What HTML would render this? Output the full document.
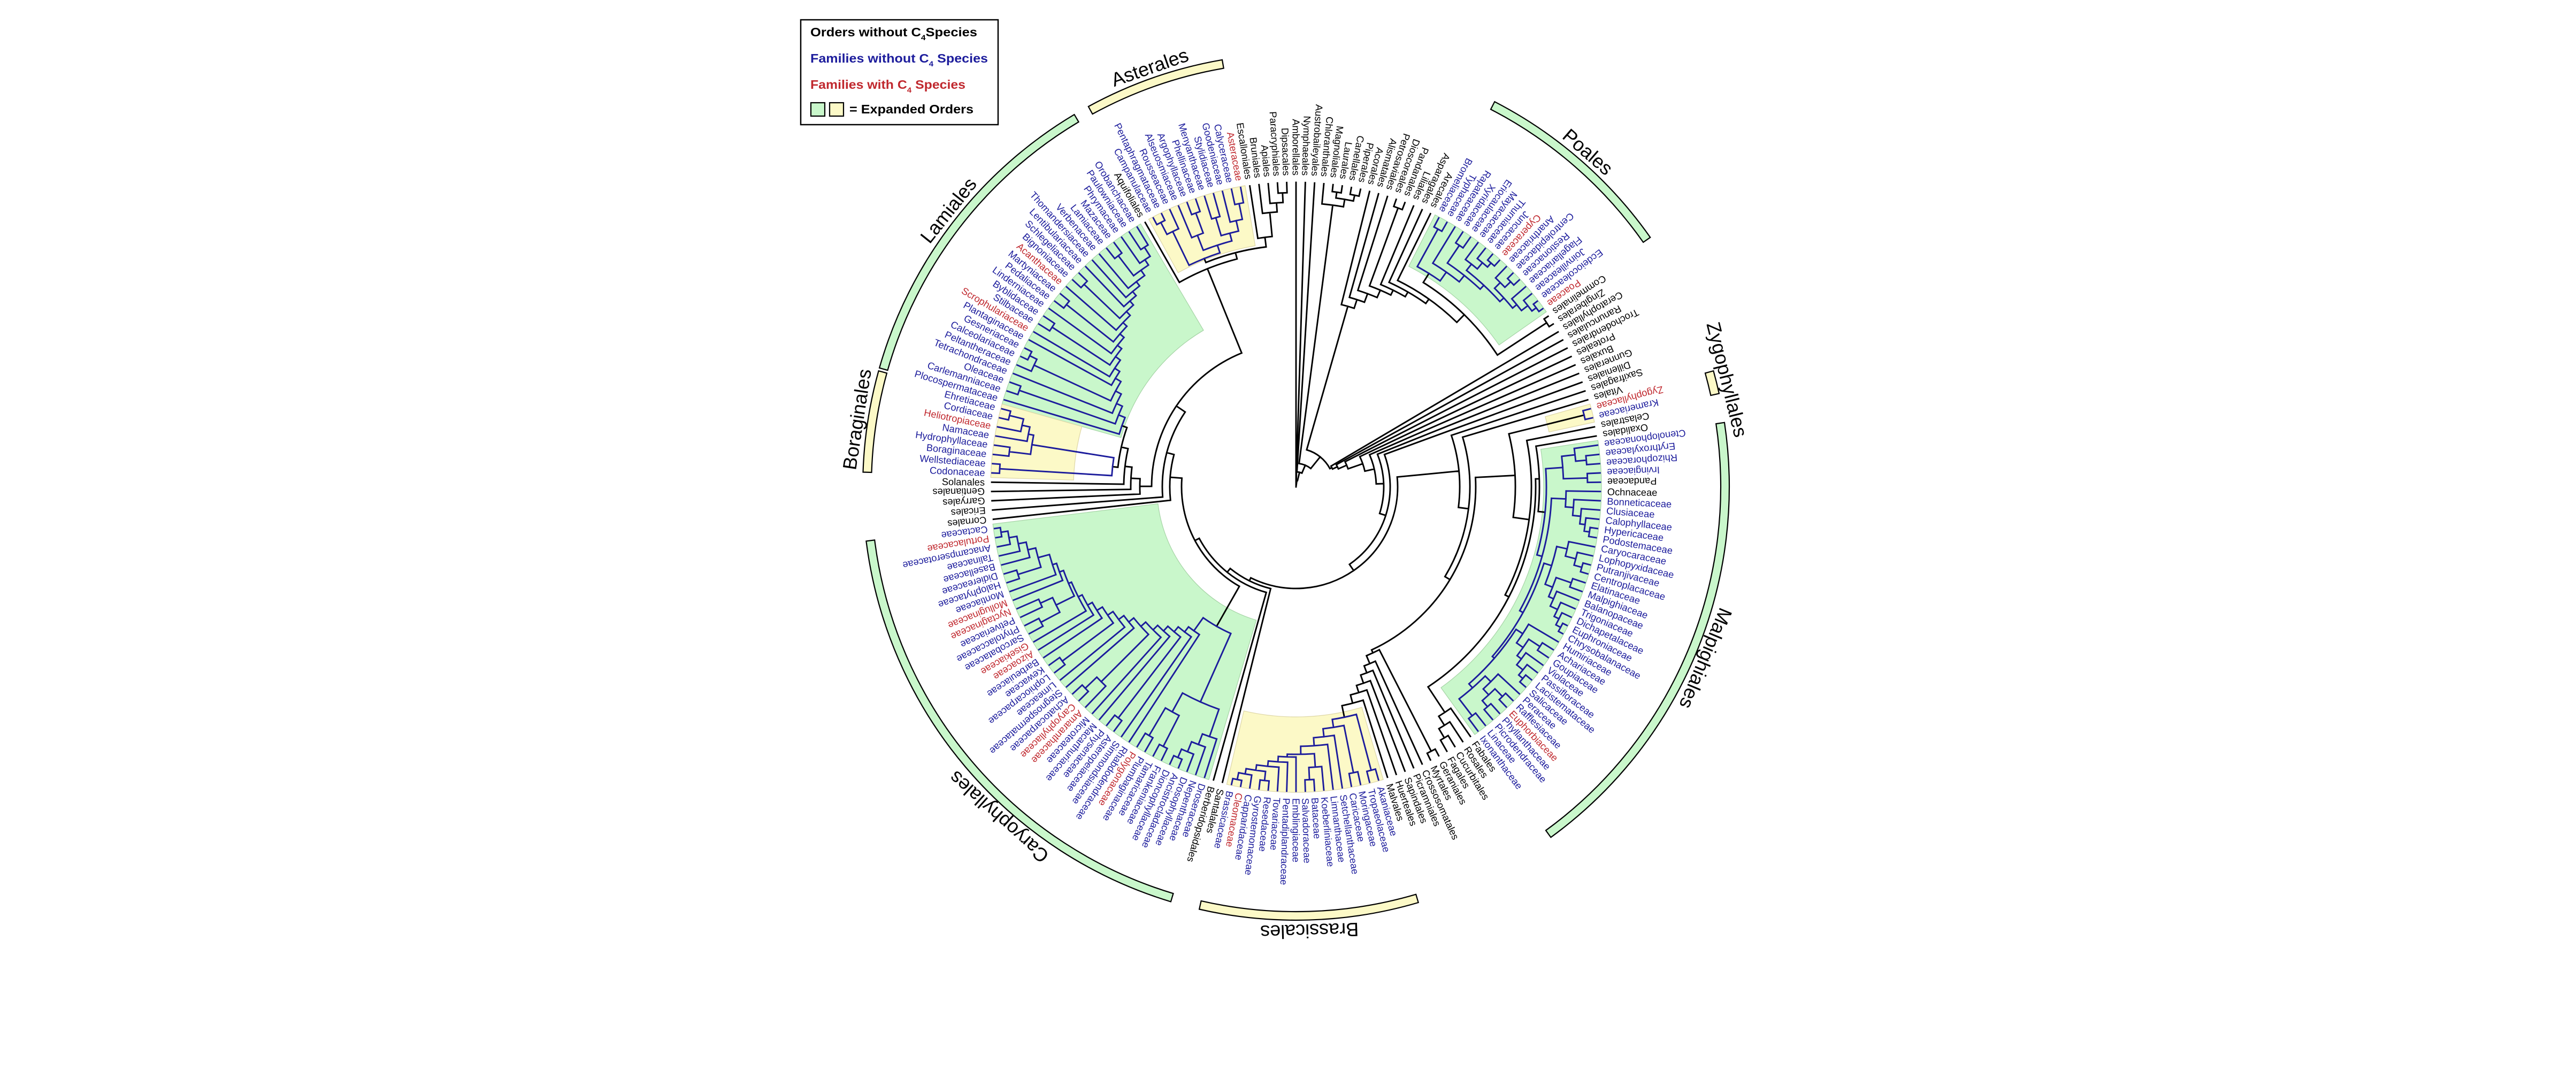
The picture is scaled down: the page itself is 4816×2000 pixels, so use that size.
<!DOCTYPE html>
<html><head><meta charset="utf-8">
<style>
html,body{margin:0;padding:0;background:#fff;}
svg{display:block;}
</style></head>
<body>
<svg id="s" xmlns="http://www.w3.org/2000/svg" width="4816" height="2000" viewBox="0 0 4816 2000">
<rect x="0" y="0" width="4816" height="2000" fill="#ffffff"/>
<g id="wedges"></g>
<g id="tree"></g>
<g id="labels" font-family="'Liberation Sans', Arial, sans-serif" font-size="18.3"></g>
<g id="bands" font-family="'Liberation Sans', Arial, sans-serif" font-size="36"></g>
<g id="legend" font-family="'Liberation Sans', Arial, sans-serif" font-weight="bold">
  <rect x="1497" y="37" width="369" height="196" fill="#fff" stroke="#000" stroke-width="2.5"/>
  <text x="1515" y="68" font-size="23" fill="#000" textLength="312" lengthAdjust="spacingAndGlyphs">Orders without C<tspan font-size="14" dy="7">4</tspan><tspan dy="-7">Species</tspan></text>
  <text x="1515" y="117" font-size="23" fill="#1c1c9c" textLength="332" lengthAdjust="spacingAndGlyphs">Families without C<tspan font-size="14" dy="7">4</tspan><tspan dy="-7"> Species</tspan></text>
  <text x="1515" y="166" font-size="23" fill="#c0282e" textLength="290" lengthAdjust="spacingAndGlyphs">Families with C<tspan font-size="14" dy="7">4</tspan><tspan dy="-7"> Species</tspan></text>
  <rect x="1516" y="192" width="26" height="25" fill="#c9f7cb" stroke="#000" stroke-width="2.2"/>
  <rect x="1551" y="192" width="26" height="25" fill="#fcf9c7" stroke="#000" stroke-width="2.2"/>
  <text x="1588" y="212" font-size="23" fill="#000" textLength="232" lengthAdjust="spacingAndGlyphs">= Expanded Orders</text>
</g>
</svg>
<script>
(function(){
var BLUE='#1c1c9c', RED='#c0282e', GREEN='#c9f7cb', YEL='#fcf9c7';
var N=206, D=360/N, RT=569, RL=582, CX=2423, CY=910;
function ang(i){return -90+i*D;}
function P(r,a){var t=a*Math.PI/180;return [CX+r*Math.cos(t), CY+r*Math.sin(t)];}
function f(v){return v.toFixed(1);}
function K(r){return {r:r,c:Array.prototype.slice.call(arguments,1),b:0};}
function B(r){return {r:r,c:Array.prototype.slice.call(arguments,1),b:1};}

var L=[
"kAmborellales","kNymphaeales","kAustrobaileyales","kChloranthales","kMagnoliales","kLaurales","kCanellales","kPiperales","kAcorales","kAlismatales",
"kPetrosaviales","kDioscoreales","kPandanales","kLiliales","kAsparagales","kArecales","bBromeliaceae","bTyphaceae","bRapateaceae","bXyridaceae",
"bEriocaulaceae","bMayacaceae","bThurniaceae","bJuncaceae","rCyperaceae","bAnarthriaceae","bCentrolepidaceae","bRestionaceae","bFlagellariaceae","bJoinvilleaceae",
"bEcdeiocoleaceae","rPoaceae","kCommelinales","kZingiberales","kCeratophyllales","kRanunculales","kTrochodendrales","kProteales","kBuxales","kGunnerales",
"kDilleniales","kSaxifragales","kVitales","rZygophyllaceae","bKrameriaceae","kCelastrales","kOxalidales","bCtenolophonaceae","bErythroxylaceae","bRhizophoraceae",
"bIrvingiaceae","kPandaceae","kOchnaceae","bBonneticaceae","bClusiaceae","bCalophyllaceae","bHypericaceae","bPodostemaceae","bCaryocaraceae","bLophopyxidaceae",
"bPutranjivaceae","bCentroplacaceae","bElatinaceae","bMalpighiaceae","bBalanopaceae","bTrigoniaceae","bDichapetalaceae","bEuphroniaceae","bChrysobalanaceae","bHumiriaceae",
"bAchariaceae","bGoupiaceae","bViolaceae","bPassifloraceae","bLacistemataceae","bSalicaceae","bPeraceae","bRafflesiaceae","rEuphorbiaceae","bPhyllanthaceae",
"bPicrodendraceae","bLinaceae","bIxonanthaceae","kFabales","kRosales","kCucurbitales","kFagales","kGeraniales","kMyrtales","kCrossosomatales",
"kPicramniales","kSapindales","kHuerteales","kMalvales","bAkaniaceae","bTropaeolaceae","bMoringaceae","bCaricaceae","bSetchellanthaceae","bLimnanthaceae",
"bKoeberliniaceae","bBataceae","bSalvadoraceae","bEmblingiaceae","bPentadiplandraceae","bTovariaceae","bResedaceae","bGyrostemonaceae","bCapparidaceae","rCleomaceae",
"bBrassicaceae","kSantalales","kBerberidopsidales","bDroseraceae","bNepenthaceae","bDrosophyllaceae","bAncistrocladaceae","bDioncophyllaceae","bFrankeniaceae","bTamaricaceae",
"bPlumbaginaceae","rPolygonaceae","bRhabdodendraceae","bSimmondsiaceae","bAsteropeiaceae","bPhysenaceae","bMacarthuriaceae","bMicroteaceae","rAmaranthaceae","rCaryophyllaceae",
"bAchatocarpaceae","bStegnospermataceae","bLimeaceae","bLophiocarpaceae","bKewaceae","bBarbeuiaceae","rAizoaceae","rGisekiaceae","bSarcobataceae","bPhytolaccaceae",
"bPetiveriaceae","rNyctaginaceae","rMolluginaceae","bMontiaceae","bHalophytaceae","bDidiereaceae","bBasellaceae","bTalinaceae","bAnacampserotaceae","rPortulacaceae",
"bCactaceae","kCornales","kEricales","kGarryales","kGentianales","kSolanales","bCodonaceae","bWellstediaceae","bBoraginaceae","bHydrophyllaceae",
"bNamaceae","rHeliotropiaceae","bCordiaceae","bEhretiaceae","bPlocospermataceae","bCarlemanniaceae","bOleaceae","bTetrachondraceae","bPeltantheraceae","bCalceolariaceae",
"bGesneriaceae","bPlantaginaceae","rScrophulariaceae","bStilbaceae","bByblidaceae","bLinderniaceae","bPedaliaceae","bMartyniaceae","rAcanthaceae","bBignoniaceae",
"bSchlegeliaceae","bLentibulariaceae","bThomandersiaceae","bVerbenaceae","bLamiaceae","bMazaceae","bPhrymaceae","bPaulowniaceae","bOrobanchaceae","kAquifoliales",
"bCampanulaceae","bPentaphragmataceae","bRousseaceae","bAlseuosmiaceae","bArgophyllaceae","bPhellinaceae","bMenyanthaceae","bStylidiaceae","bGoodeniaceae","bCalyceraceae",
"rAsteraceae","kEscalloniales","kBruniales","kApiales","kParacryphiales","kDipsacales"];

/* ---------- tree ---------- */
var Poales=B(470,B(550,16,17),B(490,18,B(505,B(545,19,20),B(515,B(530,21,B(545,22,B(555,23,24))),B(525,B(540,25,B(555,26,27)),B(535,28,B(550,29,B(560,30,31))))))));
var MA=B(500,B(525,47,B(545,48,49)),B(545,50,51));
var MC=B(505,52,B(520,53,B(535,54,B(545,55,B(555,56,57)))));
var ME=B(500,B(520,58,B(540,59,B(555,60,61))),B(515,B(545,62,63),B(525,64,B(540,65,B(550,66,B(560,67,68))))));
var MF=B(490,B(505,69,B(520,B(545,70,71),B(530,72,B(545,73,B(555,74,75))))),B(500,B(515,76,B(530,B(550,77,78),B(545,79,80))),B(540,81,82)));
var Malp=B(468,MA,B(478,MC,B(485,ME,MF)));
var Zyg=B(555,43,44);
var Nfix=K(505,83,K(525,84,K(545,85,86)));
var Fabids=K(410,Zyg,K(440,45,K(448,K(455,46,Malp),Nfix)));
var Brass=B(440,B(548,94,95),B(455,B(545,96,97),B(470,98,B(485,99,B(500,B(525,100,B(548,101,102)),B(505,103,B(515,104,B(525,105,B(535,B(552,106,107),B(545,108,B(558,109,110)))))))))));
var Malvids=K(342,K(555,87,88),K(358,89,K(372,90,K(388,91,K(402,92,K(418,93,Brass))))));
var Rosids=K(336,Fabids,Malvids);
var SR=K(306,41,K(325,42,Rosids));

var NC=B(440,B(494,113,B(515,114,B(535,115,B(552,116,117)))),B(480,B(545,118,119),B(540,120,121)));
var Port=B(478,143,B(500,B(545,144,145),B(515,146,B(530,147,B(545,148,B(558,149,150))))));
var Nyct=B(500,B(540,138,139),B(525,140,141));
var C12=B(462,Nyct,B(470,142,Port));
var C11=B(456,137,C12);
var C10=B(448,136,C11);
var C9=B(438,135,C10);
var C8=B(426,B(545,133,134),C9);
var C7=B(414,132,C8);
var C6=B(402,131,C7);
var C5=B(390,B(515,128,B(545,129,130)),C6);
var C4=B(378,127,C5);
var C3=B(366,126,C4);
var C2=B(354,B(545,124,125),C3);
var C1=B(342,123,C2);
var CoreC=B(330,122,C1);
var Cary=B(300,NC,CoreC);

var Bor=B(345,B(555,156,157),B(500,B(540,158,159),B(510,160,B(525,161,B(552,162,163)))));
var l15=B(510,186,B(530,187,188));
var l14=B(498,B(545,184,185),l15);
var l13=B(486,183,l14);
var l12=B(476,182,l13);
var l11=B(466,181,l12);
var l10=B(456,B(548,179,180),l11);
var l9=B(446,178,l10);
var l8=B(436,B(548,176,177),l9);
var l7=B(426,175,l8);
var l6=B(416,B(545,173,174),l7);
var l5=B(405,172,l6);
var l4=B(394,171,l5);
var l3=B(382,B(540,168,B(555,169,170)),l4);
var l2=B(370,167,l3);
var l1=B(358,B(548,165,166),l2);
var Lam=B(345,164,l1);
var Aster=B(460,B(530,B(555,190,191),192),B(475,B(505,193,B(545,194,195)),B(490,B(525,196,197),B(510,198,B(540,199,200)))));
var Camp=K(440,189,K(452,Aster,K(470,201,K(515,202,K(532,203,K(550,204,205))))));
var Lamiids=K(292,153,K(309,154,K(322,155,K(335,Bor,Lam))));
var Ast=K(236,151,K(250,152,K(270,Lamiids,Camp)));
var SA=K(196,111,K(205,112,K(214,Cary,Ast)));
var Core=K(190,SR,SA);
var EP=K(76,34,K(86,35,K(103,36,K(132,37,K(150,38,K(164,39,K(176,40,Core)))))));
var Mag=K(531,3,K(545,K(556,4,5),K(556,6,7)));
var Mono=K(351,8,K(368,9,K(385,10,K(400,K(555,11,12),K(410,13,K(420,14,K(430,15,K(450,Poales,K(560,32,33)))))))));
var Root=K(0,0,K(12,1,K(28,2,K(44,Mag,K(72,Mono,EP)))));

function layout(n){
  if(typeof n==='number') return ang(n);
  var as=[];
  for(var i=0;i<n.c.length;i++) as.push(layout(n.c[i]));
  n.as=as; n.a=(as[0]+as[as.length-1])/2; return n.a;
}
layout(Root);
var pk='', pb='';
function draw(n){
  var s='';
  var a1=n.as[0], a2=n.as[n.as.length-1];
  if(n.r>0.5){
    var p1=P(n.r,a1), p2=P(n.r,a2);
    var large=(a2-a1)>180?1:0;
    s+='M'+f(p1[0])+','+f(p1[1])+'A'+n.r+','+n.r+' 0 '+large+' 1 '+f(p2[0])+','+f(p2[1]);
  }
  for(var i=0;i<n.c.length;i++){
    var ch=n.c[i], a=n.as[i];
    var r2=(typeof ch==='number')?RT:ch.r;
    var q1=P(n.r,a), q2=P(r2,a);
    s+='M'+f(q1[0])+','+f(q1[1])+'L'+f(q2[0])+','+f(q2[1]);
    if(typeof ch!=='number') draw(ch);
  }
  if(n.b) pb+=s; else pk+=s;
}
draw(Root);

function sector(r1,r2,a1,a2){
  var A=P(r2,a1),Bp=P(r2,a2),C=P(r1,a2),Dp=P(r1,a1);
  var l=(a2-a1)>180?1:0;
  return 'M'+f(A[0])+','+f(A[1])+'A'+r2+','+r2+' 0 '+l+' 1 '+f(Bp[0])+','+f(Bp[1])+
         'L'+f(C[0])+','+f(C[1])+'A'+r1+','+r1+' 0 '+l+' 0 '+f(Dp[0])+','+f(Dp[1])+'Z';
}

/* wedges */
var W=[[164,188,'g',340],[156,163,'y',416],[190,200,'y',457],[16,31,'g',463],[43,44,'y',484],[47,82,'g',463],[94,110,'y',430],[113,150,'g',260]];
var ws='';
for(var i=0;i<W.length;i++){
  var w=W[i];
  ws+='<path d="'+sector(w[3],571,ang(w[0])-D/2,ang(w[1])+D/2)+'" fill="'+(w[2]=='g'?GREEN:YEL)+'" stroke="'+(w[2]=='g'?'#a6d4a6':'#ddd6a6')+'" stroke-width="1.2"/>';
}
document.getElementById('wedges').innerHTML=ws;

document.getElementById('tree').innerHTML=
  '<path d="'+pk+'" fill="none" stroke="#000" stroke-width="2.9" stroke-linecap="square"/>'+
  '<path d="'+pb+'" fill="none" stroke="'+BLUE+'" stroke-width="2.9" stroke-linecap="square"/>';

/* labels */
var lab='';
for(var i=0;i<N;i++){
  var a=ang(i);
  var p=P(RL,a);
  var c=L[i].charAt(0), name=L[i].slice(1);
  var fill=c=='k'?'#000':(c=='b'?BLUE:RED);
  var rot,anc;
  if(a>0 && a<180){rot=a;anc='start';}else{rot=a+180;anc='end';}
  lab+='<text x="'+f(p[0])+'" y="'+f(p[1])+'" transform="rotate('+rot.toFixed(3)+' '+f(p[0])+' '+f(p[1])+')" text-anchor="'+anc+'" dy="0.36em" fill="'+fill+'">'+name+'</text>';
}
document.getElementById('labels').innerHTML=lab;

/* bands */
var BD=[[16,31,'g','Poales',null],[43,44,'y','Zygophyllales',null],[47,82,'g','Malpighiales',null],[94,110,'y','Brassicales',null],[113,150,'g','Caryophyllales',132],[156,163,'y','Boraginales',null],[164,188,'g','Lamiales',218.5],[190,200,'y','Asterales',null]];
var bs='';
for(var i=0;i<BD.length;i++){
  var b=BD[i];
  var a1=ang(b[0])-D/2+0.2, a2=ang(b[1])+D/2-0.2;
  bs+='<path d="'+sector(794,810,a1,a2)+'" fill="'+(b[2]=='g'?GREEN:YEL)+'" stroke="#000" stroke-width="2.2"/>';
  var am=(b[4]!==null)?b[4]:(a1+a2)/2;
  var p=P(818,am);
  bs+='<text x="'+f(p[0])+'" y="'+f(p[1])+'" transform="rotate('+(am+90).toFixed(2)+' '+f(p[0])+' '+f(p[1])+')" text-anchor="middle" fill="#000">'+b[3]+'</text>';
}
document.getElementById('bands').innerHTML=bs;
})();
</script>
</body></html>
